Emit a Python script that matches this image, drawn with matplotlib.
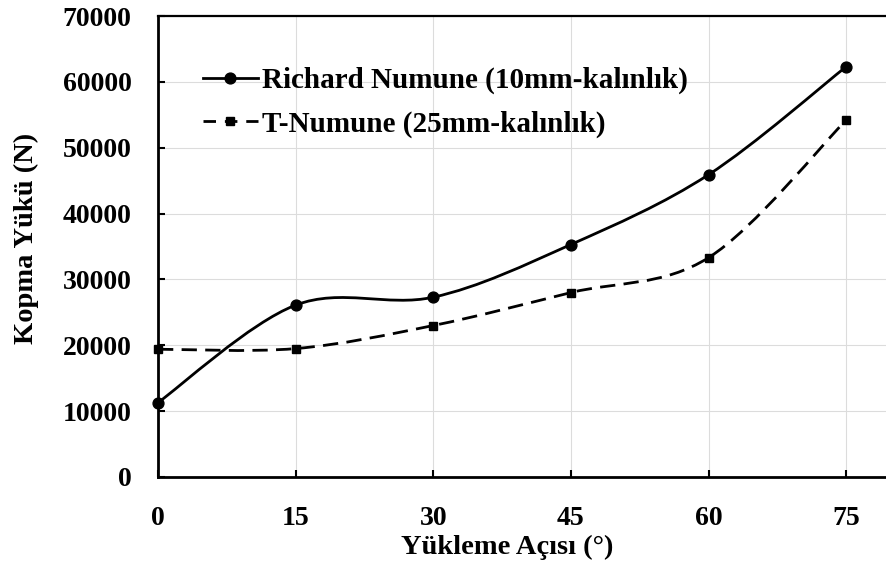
import matplotlib.pyplot as plt
from matplotlib.path import Path
from matplotlib.patches import PathPatch
from matplotlib.lines import Line2D

plt.rcParams['font.family'] = ['Liberation Serif', 'DejaVu Serif']
plt.rcParams['font.weight'] = 'bold'

angles = [0, 15, 30, 45, 60, 75]
richard = [11300, 26100, 27300, 35300, 45900, 62300]
t_numune = [19400, 19500, 23000, 28000, 33300, 54200]

label_richard = "Richard Numune (10mm-kalınlık)"
label_t = "T-Numune (25mm-kalınlık)"


def smooth_path(x, y):
    # excel style smoothed line: cubic bezier through the points
    verts = [(x[0], y[0])]
    codes = [Path.MOVETO]
    n = len(x)
    for i in range(n - 1):
        i0 = max(i - 1, 0)
        i3 = min(i + 2, n - 1)
        c1 = (x[i] + (x[i + 1] - x[i0]) / 6, y[i] + (y[i + 1] - y[i0]) / 6)
        c2 = (x[i + 1] - (x[i3] - x[i]) / 6, y[i + 1] - (y[i3] - y[i]) / 6)
        verts += [c1, c2, (x[i + 1], y[i + 1])]
        codes += [Path.CURVE4] * 3
    return Path(verts, codes)


fig = plt.figure(figsize=(8.86, 5.67), dpi=100)
ax = fig.add_axes([158 / 886, 90 / 567, 734 / 886, 461 / 567])

ax.add_patch(PathPatch(smooth_path(angles, richard), fill=False,
                       edgecolor="black", linewidth=2.0, zorder=3))
ax.add_patch(PathPatch(smooth_path(angles, t_numune), fill=False,
                       edgecolor="black", linewidth=2.0, zorder=3,
                       linestyle=(0, (5.5, 3))))
ax.plot(angles, richard, "o", color="black", markersize=7.8, zorder=4, clip_on=False)
ax.plot(angles, t_numune, "s", color="black", markersize=6.3, zorder=4, clip_on=False)

ax.set_xlim(0, 80)
ax.set_ylim(0, 70000)
ax.set_xticks(angles)
ax.set_yticks(range(0, 70001, 10000))
ax.grid(True, color="#dcdcdc", linewidth=0.8)
ax.set_axisbelow(True)

for side in ["left", "bottom"]:
    ax.spines[side].set_linewidth(2.0)
ax.spines["top"].set_linewidth(1.6)
ax.spines["right"].set_visible(False)

ax.tick_params(axis="both", direction="in", length=5, width=1.5, labelsize=20)
ax.tick_params(axis="y", pad=19)
ax.tick_params(axis="x", pad=21)

ax.set_xlabel("Yükleme Açısı (°)", fontsize=20.5, fontweight="bold")
ax.xaxis.set_label_coords(0.4755, -0.125)
ax.set_ylabel("Kopma Yükü (N)", fontsize=20.5, fontweight="bold")
ax.yaxis.set_label_coords(-0.162, 0.518)

handles = [
    Line2D([], [], color="black", linewidth=2.0, marker="o", markersize=7.8),
    Line2D([], [], color="black", linewidth=2.0, marker="s", markersize=6.3,
           linestyle=(0, (4.5, 3.2))),
]
ax.legend(handles, [label_richard, label_t], loc="upper left",
          bbox_to_anchor=(0.045, 0.915), frameon=False, fontsize=21,
          handlelength=1.9, handletextpad=0.15, labelspacing=0.55,
          borderaxespad=0)

fig.savefig("out.png", dpi=100)
